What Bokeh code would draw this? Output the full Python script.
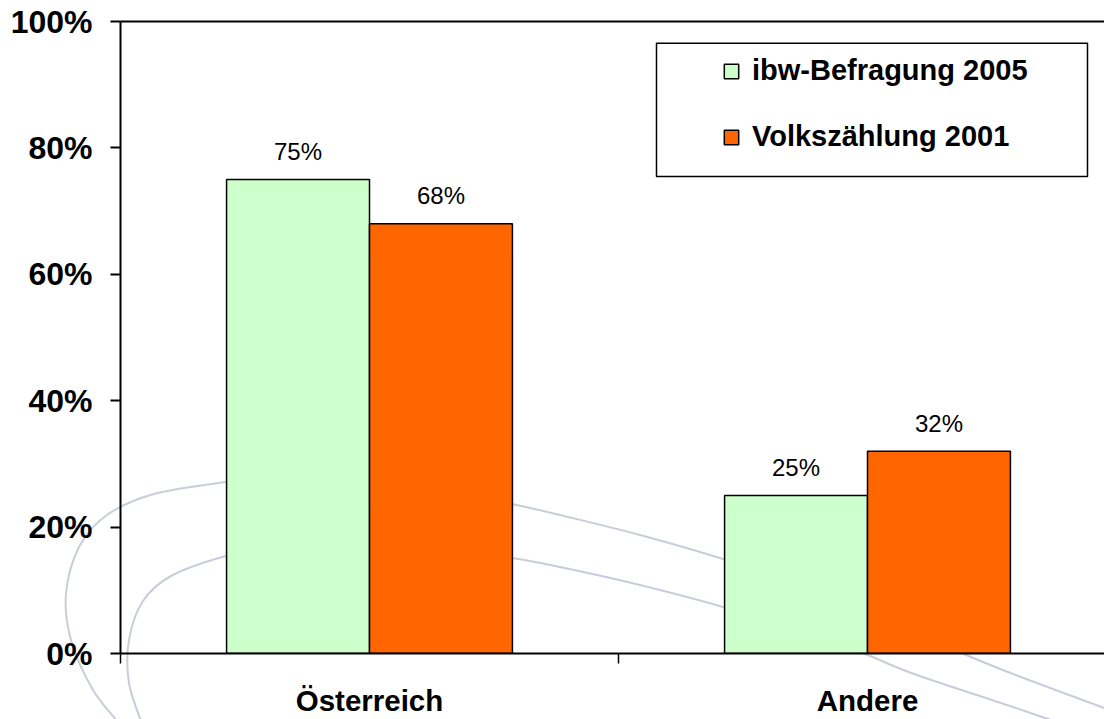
from urllib.parse import quote
from bokeh.plotting import figure
from bokeh.models import (ColumnDataSource, Range1d, FixedTicker, LinearAxis, Legend, LegendItem,
                          BoxAnnotation)
from bokeh.core.properties import value
from bokeh.embed import file_html
from bokeh.resources import INLINE

# ---- data ----
categories = ["Österreich", "Andere"]
ibw_2005 = [75, 25]
volkszaehlung_2001 = [68, 32]
series_names = ["ibw-Befragung 2005", "Volkszählung 2001"]
y_ticks = [0, 20, 40, 60, 80, 100]
y_tick_labels = ["0%", "20%", "40%", "60%", "80%", "100%"]

# ---- style ----
FONT = "Liberation Sans"
GREEN = "#CCFFCC"
ORANGE = "#FF6600"
BAR_W = 0.574          # in x units (one category = 2 units)
OFFSET = BAR_W / 2
W, H = 1104, 719

centers = [2 * i + 1 for i in range(len(categories))]
x_ibw = [c - OFFSET for c in centers]
x_vz = [c + OFFSET for c in centers]

# ---- decorative background swooshes (page pixels, drawn as CSS background) ----
outer = [(132, 745), (121, 726), (93, 690), (71, 640), (66, 594), (79, 547), (107, 515), (154, 494),
         (226, 482), (270, 478), (310, 477), (360, 480), (420, 488), (470, 496), (512, 504), (560, 515),
         (640, 535), (723, 559), (790, 582), (860, 612), (930, 640), (1008, 672), (1104, 708), (1130, 718)]
inner = [(152, 745), (143, 726), (129, 683), (129, 640), (143, 601), (171, 576), (226, 556), (270, 549),
         (320, 546), (380, 547), (450, 551), (512, 558), (560, 567), (640, 585), (723, 607), (800, 632),
         (860, 652), (914, 674), (1010, 706), (1104, 738), (1130, 746)]


def smooth_path(pts):
    d = f"M{pts[0][0]},{pts[0][1]}"
    n = len(pts)
    for i in range(n - 1):
        p0 = pts[i - 1] if i > 0 else pts[i]
        p1, p2 = pts[i], pts[i + 1]
        p3 = pts[i + 2] if i + 2 < n else pts[i + 1]
        c1 = (p1[0] + (p2[0] - p0[0]) / 6, p1[1] + (p2[1] - p0[1]) / 6)
        c2 = (p2[0] - (p3[0] - p1[0]) / 6, p2[1] - (p3[1] - p1[1]) / 6)
        d += f" C{c1[0]:.1f},{c1[1]:.1f} {c2[0]:.1f},{c2[1]:.1f} {p2[0]},{p2[1]}"
    return d


svg_bg = (f'<svg xmlns="http://www.w3.org/2000/svg" width="{W}" height="{H}" viewBox="0 0 {W} {H}">'
          + "".join(f'<path d="{smooth_path(c)}" fill="none" stroke="#c9ccd9" stroke-width="2"/>'
                    for c in (outer, inner))
          + "</svg>")

p = figure(width=W, height=H, output_backend="svg", toolbar_location=None,
           x_range=Range1d(0, 3.9518), y_range=Range1d(0, 100),
           min_border_left=120, min_border_right=0, min_border_top=21, min_border_bottom=62)
p.outline_line_color = None
p.grid.visible = False
p.background_fill_color = None
p.border_fill_color = None
p.styles = {"background-color": "white",
            "background-image": f'url("data:image/svg+xml,{quote(svg_bg)}")',
            "background-repeat": "no-repeat"}

src_ibw = ColumnDataSource(dict(x=x_ibw, top=ibw_2005, lab=[f"{v}%" for v in ibw_2005]))
src_vz = ColumnDataSource(dict(x=x_vz, top=volkszaehlung_2001, lab=[f"{v}%" for v in volkszaehlung_2001]))

r1 = p.vbar(x="x", top="top", bottom=0, width=BAR_W, source=src_ibw,
            fill_color=GREEN, line_color="black", line_width=1.5)
r2 = p.vbar(x="x", top="top", bottom=0, width=BAR_W, source=src_vz,
            fill_color=ORANGE, line_color="black", line_width=1.5)

for src in (src_ibw, src_vz):
    p.text(x="x", y="top", text="lab", source=src, text_align="center", text_baseline="alphabetic",
           y_offset=-28, text_font=value(FONT), text_font_size="24px", text_color="black")

# y axis
ya = p.yaxis[0]
ya.ticker = FixedTicker(ticks=y_ticks)
ya.major_label_overrides = {t: l for t, l in zip(y_ticks, y_tick_labels)}
ya.major_label_text_font = FONT
ya.major_label_text_font_style = "bold"
ya.major_label_text_font_size = "32px"
ya.major_label_text_color = "black"
ya.major_label_standoff = 18
ya.major_tick_out = 10
ya.major_tick_in = 0
ya.major_tick_line_width = 2
ya.minor_tick_line_color = None
ya.axis_line_width = 2

# x axis
xa = p.xaxis[0]
xa.ticker = FixedTicker(ticks=centers, minor_ticks=[0, 2, 4])
xa.major_label_overrides = {c: n for c, n in zip(centers, categories)}
xa.major_label_text_font = FONT
xa.major_label_text_font_style = "bold"
xa.major_label_text_font_size = "29.5px"
xa.major_label_text_color = "black"
xa.major_label_standoff = 20
xa.major_tick_line_color = None
xa.major_tick_out = 10
xa.major_tick_in = 0
xa.minor_tick_line_color = "black"
xa.minor_tick_line_width = 1.5
xa.minor_tick_out = 10
xa.minor_tick_in = 0
xa.axis_line_width = 2

# top frame line
top_axis = LinearAxis(ticker=FixedTicker(ticks=[]), axis_line_width=2, major_tick_out=0, major_tick_in=0,
                      minor_tick_out=0, minor_tick_in=0, major_label_text_font_size="0px")
p.add_layout(top_axis, "above")

# legend box + legend
box = BoxAnnotation(left=2.1526, right=3.8835, top=96.54, bottom=75.47,
                    fill_color="white", fill_alpha=1.0, line_color="black", line_width=1.5, line_alpha=1.0)
p.add_layout(box)
legend = Legend(items=[LegendItem(label=series_names[0], renderers=[r1]),
                       LegendItem(label=series_names[1], renderers=[r2])],
                location=(602, 500), padding=0, margin=0, spacing=33,
                glyph_width=18, glyph_height=18, label_height=32, label_standoff=12,
                label_text_font=FONT, label_text_font_style="bold", label_text_font_size="29px",
                label_text_color="black", border_line_color=None, background_fill_alpha=0)
p.add_layout(legend)

open("out.html", "w").write(file_html(p, INLINE))
